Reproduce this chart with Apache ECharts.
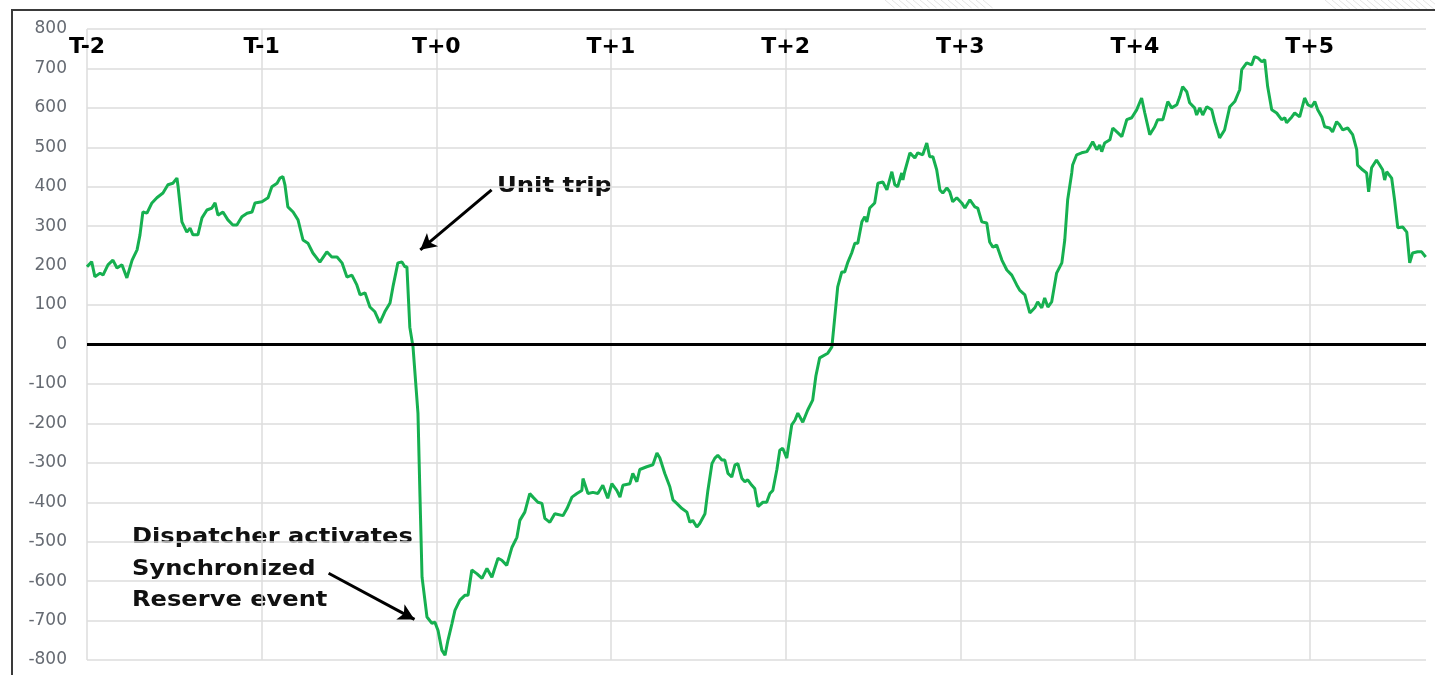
<!DOCTYPE html>
<html>
<head>
<meta charset="utf-8">
<title>Synchronized Reserve event</title>
<script src="https://cdn.jsdelivr.net/npm/echarts@6/dist/echarts.min.js"></script>
<style>
  html, body { margin: 0; padding: 0; background: #fff; }
  #main { width: 1435px; height: 675px; }
</style>
</head>
<body>
<div id="main"></div>
<script>
'use strict'

// minutes relative to the unit trip (T+0), one "T" step = 60
var minutes = [
    -120, -118.4, -117.3, -115.5, -114.5, -112.8, -111.1, -109.7, -108, -106.3,
    -104.5, -102.8, -101.8, -100.8, -99.4, -97.7, -96, -93.9, -92.2, -90.5,
    -89.1, -88.7, -87.4, -85.7, -84.6, -83.6, -81.9, -80.5, -78.8, -77.1,
    -76, -75, -73.3, -71.6, -69.9, -68.5, -66.8, -65, -63.3, -62.3,
    -59.9, -57.8, -56.5, -54.7, -53.7, -52.7, -52, -51, -49.2, -47.5,
    -45.8, -44.1, -42.4, -40, -37.6, -35.9, -34.1, -32.4, -30.7, -29,
    -27.3, -26.2, -24.5, -22.8, -21.1, -19.4, -17.7, -15.9, -14.9, -13.2,
    -11.8, -10.8, -10.1, -9.1, -8, -6.3, -5.6, -4.9, -3.2, -1.5,
    -0.5, 0.6, 1.9, 3, 4, 5.4, 6.4, 8.1, 9.8, 10.9,
    12.2, 13.9, 15.7, 17.4, 19.1, 21.2, 22.5, 24.2, 26, 27.7,
    28.7, 30.4, 32.1, 33.2, 34.9, 36.3, 37.3, 39, 40.7, 43.5,
    44.9, 46.6, 48.3, 50, 50.4, 52.1, 53.8, 55.5, 57.2, 58.9,
    60.3, 62, 63.1, 64.1, 66.5, 67.5, 68.9, 69.9, 72.3, 74.4,
    75.8, 76.8, 78.5, 80.2, 81.3, 82.6, 84.4, 86.1, 87.1, 88.1,
    89.5, 90.5, 92.3, 93.3, 94.7, 95.7, 96.7, 98.1, 99.1, 100.2,
    101.5, 102.6, 103.6, 105, 106, 107, 108.4, 109.4, 110.5, 112.2,
    113.5, 114.6, 115.6, 117, 118, 119, 120.4, 122.1, 123.2, 124.2,
    125.9, 127.6, 129.3, 130.4, 131.7, 134.5, 135.9, 136.9, 137.9, 139.3,
    140.3, 141.4, 142.7, 143.8, 144.8, 146.2, 147.2, 147.9, 148.9, 150.6,
    151.7, 153.4, 154.8, 156.5, 157.5, 158.5, 159.9, 160.3, 160.9, 162.7,
    164.4, 165.4, 167.1, 168.5, 169.5, 170.6, 171.9, 173, 174, 175.4,
    176.4, 177.4, 178.8, 180.5, 181.6, 183.3, 185, 186, 187.4, 189.1,
    190.1, 191.2, 192.5, 194.3, 196, 197.7, 199.4, 200.4, 202.2, 203.9,
    205.6, 206.6, 208, 209, 210.1, 211.4, 213.1, 214.9, 215.9, 216.9,
    218.3, 218.6, 220, 221.7, 223.5, 224.5, 225.5, 226.9, 227.9, 228.6,
    229.6, 231.4, 232.4, 233.8, 235.5, 237.2, 238.9, 240.6, 242.3, 243.4,
    245.1, 246.8, 247.8, 249.6, 251.3, 252.6, 254.4, 255.4, 256.4, 257.8,
    258.8, 260.5, 261.2, 262.3, 263.3, 264.7, 266.4, 267.4, 269.1, 270.8,
    272.6, 274.3, 276, 276.7, 278.4, 280.1, 281.1, 282.2, 283.6, 284.6,
    285.6, 287, 288.7, 290.4, 291.5, 292.1, 293.9, 294.9, 296.6, 298.3,
    299.4, 300.7, 301.8, 302.8, 304.2, 305.2, 306.9, 307.9, 309.3, 310.3,
    311.4, 313.1, 314.8, 316.2, 316.5, 318.2, 319.6, 320.3, 321.3, 323,
    324.1, 325.1, 325.8, 326.5, 328.2, 329.2, 330.3, 332, 333.4, 334.4,
    335.4, 337.1, 338.5, 339.9
];

// MW deviation, same order as minutes
var deviation = [
    197, 210, 172, 181, 176, 202, 214, 194, 202, 169,
    214, 240, 278, 336, 333, 359, 372, 384, 405, 409,
    422, 400, 311, 285, 295, 278, 278, 321, 341, 346,
    359, 328, 336, 316, 303, 303, 324, 333, 336, 359,
    362, 372, 400, 409, 422, 426, 405, 349, 336, 316,
    265, 257, 232, 209, 235, 222, 222, 207, 171, 176,
    151, 126, 131, 95, 83, 55, 83, 105, 146, 207,
    209, 197, 197, 44, -6, -174, -387, -590, -691, -707,
    -704, -725, -775, -788, -750, -707, -674, -648, -636, -636,
    -572, -581, -593, -568, -590, -542, -547, -560, -514, -489,
    -446, -425, -378, -387, -400, -403, -441, -451, -429, -434,
    -416, -387, -378, -370, -340, -378, -375, -378, -357, -390,
    -353, -370, -387, -357, -353, -327, -348, -317, -310, -305,
    -275, -288, -327, -360, -394, -403, -416, -425, -451, -446,
    -463, -454, -429, -370, -302, -288, -281, -293, -293, -327,
    -336, -305, -302, -340, -348, -343, -357, -365, -411, -400,
    -400, -378, -370, -317, -268, -263, -288, -204, -192, -174,
    -197, -166, -141, -80, -34, -22, -6, 70, 146, 184,
    184, 209, 232, 257, 257, 311, 324, 311, 346, 359,
    409, 412, 392, 438, 405, 400, 435, 417, 438, 486,
    473, 486, 481, 511, 476, 476, 443, 392, 384, 397,
    387, 362, 372, 359, 346, 367, 349, 346, 311, 308,
    260, 247, 252, 214, 189, 176, 151, 138, 126, 80,
    93, 108, 93, 118, 95, 108, 181, 207, 265, 367,
    435, 455, 481, 486, 489, 501, 514, 494, 506, 489,
    511, 519, 549, 539, 527, 570, 575, 595, 625, 587,
    532, 552, 570, 570, 616, 600, 608, 628, 654, 641,
    613, 600, 582, 600, 582, 603, 595, 565, 524, 544,
    603, 616, 646, 697, 714, 709, 730, 727, 717, 722,
    654, 595, 587, 570, 575, 562, 577, 587, 577, 625,
    608, 603, 616, 595, 577, 552, 549, 539, 565, 557,
    544, 549, 532, 494, 455, 443, 435, 387, 448, 468,
    455, 443, 417, 438, 422, 367, 296, 298, 285, 207,
    232, 235, 235, 222
];

var periodLabels = ['T-2', 'T-1', 'T+0', 'T+1', 'T+2', 'T+3', 'T+4', 'T+5'];

// annotation arrows: [from, to] in [minute, MW]
var tripArrow = [[19, 392], [-5.5, 240]];
var reserveArrow = [[-37, -580], [-7.5, -697]];

var myChart = echarts.init(document.getElementById('main'));

var points = [];
for (let i = 0; i < minutes.length; i++) {
    points.push([minutes[i], deviation[i]]);
}

var gridColor = '#dddddd';

// faint hatching of the slide background along the top edge
var hatch = [];
function addHatch(x0, x1, h) {
    for (let x = x0; x < x1; x += 7) {
        hatch.push({
            type: 'line',
            shape: { x1: x, y1: 0, x2: x + h * 1.2, y2: h },
            style: { stroke: '#e4e4e4', lineWidth: 1 },
            silent: true
        });
    }
}
addHatch(885, 990, 8);
addHatch(1325, 1435, 10);

var option = {
    backgroundColor: '#ffffff',
    animation: false,
    grid: {
        left: 87,
        right: 9,
        top: 29,
        bottom: 15
    },
    xAxis: {
        type: 'value',
        position: 'top',
        min: -120,
        max: 340,
        interval: 60,
        axisLine: { show: false },
        axisTick: { show: false },
        splitLine: {
            show: true,
            showMaxLine: false,
            lineStyle: { color: gridColor, width: 1.5 }
        },
        axisLabel: {
            inside: true,
            margin: 7,
            showMaxLabel: false,
            color: '#000',
            fontFamily: 'DejaVu Sans',
            fontWeight: 'bold',
            fontSize: 22,
            formatter: function (v) {
                let idx = Math.round((v + 120) / 60);
                if (Math.abs(v + 120 - idx * 60) > 0.01) return '';
                return periodLabels[idx] || '';
            }
        }
    },
    yAxis: {
        type: 'value',
        min: -800,
        max: 800,
        interval: 100,
        axisLine: { show: false },
        axisTick: { show: false },
        axisLabel: {
            margin: 20,
            color: '#656a72',
            fontFamily: 'DejaVu Sans',
            fontSize: 17
        },
        splitLine: {
            lineStyle: { color: gridColor, width: 1.5 }
        }
    },
    graphic: hatch.concat([
        {
            type: 'polyline',
            shape: { points: [[12, 675], [12, 10], [1435, 10]] },
            style: { stroke: '#3a3a3a', lineWidth: 2, fill: null },
            silent: true
        },
        {
            type: 'text',
            x: 497, y: 187,
            scaleX: 1.16,
            style: {
                text: 'Unit trip',
                fill: '#111',
                font: 'bold 21px "DejaVu Sans"',
                verticalAlign: 'middle'
            }
        },
        {
            type: 'text',
            x: 132, y: 522,
            scaleX: 1.15,
            style: {
                text: 'Dispatcher activates\nSynchronized\nReserve event',
                fill: '#111',
                font: 'bold 21px "DejaVu Sans"',
                lineHeight: 31.5,
                verticalAlign: 'top'
            }
        }
    ]),
    series: [
        {
            type: 'line',
            data: points,
            showSymbol: false,
            lineStyle: { color: '#16b050', width: 3 },
            z: 3,
            markLine: {
                silent: true,
                symbol: ['none', 'none'],
                label: { show: false },
                lineStyle: { color: '#000', width: 3, type: 'solid' },
                data: [
                    { yAxis: 0 },
                    [
                        { coord: tripArrow[0], symbol: 'none' },
                        { coord: tripArrow[1], symbol: 'arrow', symbolSize: [13, 16] }
                    ],
                    [
                        { coord: reserveArrow[0], symbol: 'none' },
                        { coord: reserveArrow[1], symbol: 'arrow', symbolSize: [13, 16] }
                    ]
                ]
            }
        }
    ]
};

myChart.setOption(option);
</script>
</body>
</html>
